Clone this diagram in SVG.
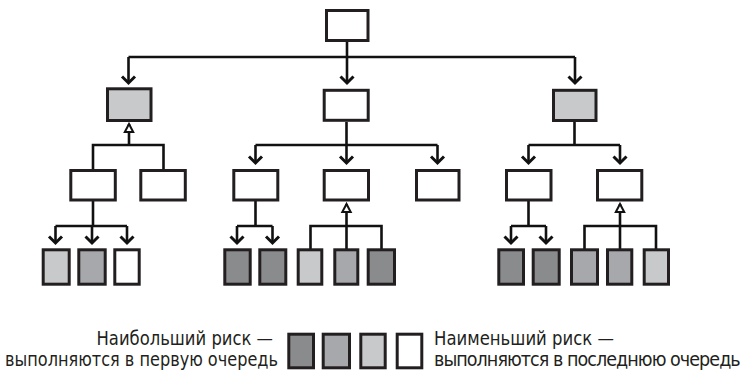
<svg xmlns="http://www.w3.org/2000/svg" width="742" height="373" viewBox="0 0 742 373">
<style>
.box{stroke:#231f20;stroke-width:3;fill:#fff}
.g1{fill:#c8c9cb}
.g2{fill:#a7a8ab}
.g3{fill:#8a8b8d}
.ln{stroke:#111;stroke-width:2.6;fill:none}
.dn{marker-end:url(#chev)}
.up{marker-end:url(#tri)}
.t{font-family:"Liberation Sans Narrow","DejaVu Sans Condensed","Liberation Sans",sans-serif;font-size:19.5px;fill:#231f20}
</style>
<defs>
<marker id="chev" markerUnits="userSpaceOnUse" markerWidth="20" markerHeight="20" refX="0" refY="0" orient="auto" overflow="visible">
<path d="M-6.5,-6.5 L0,0 L-6.5,6.5" fill="none" stroke="#111" stroke-width="3"/>
</marker>
<marker id="tri" markerUnits="userSpaceOnUse" markerWidth="20" markerHeight="20" refX="0" refY="0" orient="auto" overflow="visible">
<path d="M0,0 L-8,-4.2 L-8,4.2 Z" fill="#fff" stroke="#111" stroke-width="2"/>
</marker>
</defs>

<g id="connectors">
<path class="ln" d="M347,42 V57 M128.5,57 H575"/>
<path class="ln dn" d="M347,57 V83"/>
<path class="ln dn" d="M128.5,57 V83"/>
<path class="ln dn" d="M575,57 V83"/>
<path class="ln" d="M93,169 V145 H163.5 V169"/>
<path class="ln up" d="M129,145 V124"/>
<path class="ln" d="M346.5,122 V145 M255.5,145 H437.5"/>
<path class="ln dn" d="M346.5,145 V163"/>
<path class="ln dn" d="M255.5,145 V163"/>
<path class="ln dn" d="M437.5,145 V163"/>
<path class="ln" d="M574.5,122 V145 M528.5,145 H620"/>
<path class="ln dn" d="M528.5,145 V163"/>
<path class="ln dn" d="M620,145 V163"/>
<path class="ln" d="M93,201 V226 M55.5,226 H127"/>
<path class="ln dn" d="M55.5,226 V243"/>
<path class="ln dn" d="M92,226 V243"/>
<path class="ln dn" d="M127,226 V243"/>
<path class="ln" d="M255.5,201 V226 M237,226 H272.5"/>
<path class="ln dn" d="M237,226 V243"/>
<path class="ln dn" d="M272.5,226 V243"/>
<path class="ln" d="M310.5,249 V226 H381.5 V249 M346.5,226 V249"/>
<path class="ln up" d="M346.5,226 V204"/>
<path class="ln" d="M528.5,201 V226 M511,226 H546"/>
<path class="ln dn" d="M511,226 V243"/>
<path class="ln dn" d="M546,226 V243"/>
<path class="ln" d="M584.5,249 V226 H656 V249 M620,226 V249"/>
<path class="ln up" d="M620,226 V204"/>
</g>

<g id="root"><rect class="box" x="326.5" y="10.5" width="41.5" height="30"/></g>

<g id="l2-left"><rect class="box g1" x="107.5" y="88.8" width="43.5" height="31.7"/></g>
<g id="l2-mid"><rect class="box" x="324.2" y="90.3" width="44" height="30"/></g>
<g id="l2-right"><rect class="box g1" x="553.5" y="90.3" width="42.5" height="30.2"/></g>

<g id="l3-a"><rect class="box" x="70.8" y="170.5" width="44.5" height="29.5"/></g>
<g id="l3-b"><rect class="box" x="140.8" y="170.5" width="44.5" height="29.5"/></g>
<g id="l3-c"><rect class="box" x="233.8" y="170.5" width="44" height="29.5"/></g>
<g id="l3-d"><rect class="box" x="324.2" y="170.5" width="44.3" height="29.5"/></g>
<g id="l3-e"><rect class="box" x="416.5" y="170.5" width="42.5" height="29.5"/></g>
<g id="l3-f"><rect class="box" x="506.5" y="170.5" width="44.5" height="29.5"/></g>
<g id="l3-g"><rect class="box" x="597.5" y="170.5" width="44.3" height="29.5"/></g>

<g id="l4-1"><rect class="box g1" x="43.2" y="249.8" width="26" height="34.4"/></g>
<g id="l4-2"><rect class="box g2" x="78.8" y="249.8" width="26.4" height="34.4"/></g>
<g id="l4-3"><rect class="box" x="114.8" y="249.8" width="24.4" height="34.4"/></g>

<g id="l4-4"><rect class="box g3" x="224.8" y="249.8" width="25.4" height="34.4"/></g>
<g id="l4-5"><rect class="box g3" x="259.8" y="249.8" width="26" height="34.4"/></g>
<g id="l4-6"><rect class="box g1" x="298.2" y="249.8" width="23.6" height="34.4"/></g>
<g id="l4-7"><rect class="box g2" x="334.8" y="249.8" width="23" height="34.4"/></g>
<g id="l4-8"><rect class="box g3" x="368.2" y="249.8" width="26.3" height="34.4"/></g>

<g id="l4-9"><rect class="box g3" x="498.8" y="249.8" width="24.7" height="34.4"/></g>
<g id="l4-10"><rect class="box g3" x="533.2" y="249.8" width="26" height="34.4"/></g>
<g id="l4-11"><rect class="box g2" x="571.5" y="249.8" width="26" height="34.4"/></g>
<g id="l4-12"><rect class="box g2" x="607.5" y="249.8" width="24.3" height="34.4"/></g>
<g id="l4-13"><rect class="box g1" x="644.2" y="249.8" width="24.3" height="34.4"/></g>

<g id="legend">
<rect class="box g3" x="288.8" y="334.2" width="24.7" height="33.6"/>
<rect class="box g2" x="323.2" y="334.2" width="26.3" height="33.6"/>
<rect class="box g1" x="360.8" y="334.2" width="24.4" height="33.6"/>
<rect class="box" x="397.2" y="334.2" width="24.6" height="33.6"/>
<text class="t" x="96.5" y="344.5" textLength="176.5" lengthAdjust="spacingAndGlyphs">Наибольший риск —</text>
<text class="t" x="5" y="366" textLength="273" lengthAdjust="spacingAndGlyphs">выполняются в первую очередь</text>
<text class="t" x="434" y="344.5" textLength="180" lengthAdjust="spacingAndGlyphs">Наименьший риск —</text>
<text class="t" x="434" y="366" style="letter-spacing:-0.95px">выполняются в последнюю очередь</text>
</g>
</svg>
